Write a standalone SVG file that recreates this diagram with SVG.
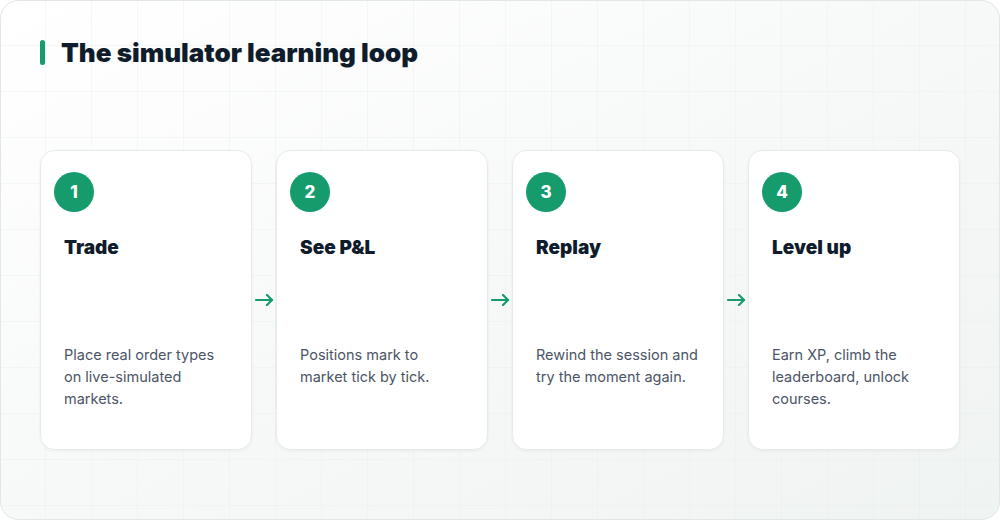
<svg xmlns="http://www.w3.org/2000/svg" width="1000" height="520" viewBox="0 0 1000 520">
<defs>
<linearGradient id="bg" x1="0" y1="0" x2="1" y2="1">
<stop offset="0" stop-color="#ffffff"/>
<stop offset="1" stop-color="#eff3f1"/>
</linearGradient>
<pattern id="grid" width="46" height="46" patternUnits="userSpaceOnUse">
<path d="M46 0V46M0 46H46" fill="none" stroke="#e6ecea" stroke-width="1"/>
</pattern>
<filter id="sh" x="-10%" y="-10%" width="120%" height="120%">
<feDropShadow dx="0" dy="1" stdDeviation="1.5" flood-color="#0f2a20" flood-opacity="0.05"/>
</filter>
<marker id="ah" viewBox="0 0 12 12" refX="10" refY="6" markerWidth="12" markerHeight="12" markerUnits="userSpaceOnUse" orient="auto">
<path d="M5 1L10 6L5 11" fill="none" stroke="#169b6c" stroke-width="2.2" stroke-linecap="round" stroke-linejoin="round"/>
</marker>
</defs>
<style>
.card{fill:#ffffff;stroke:#e4ebe8;stroke-width:1}
.badge{fill:#169b6c}
.num{font-family:Inter,"Liberation Sans",sans-serif;font-weight:800;font-size:17px;fill:#ffffff;text-anchor:middle}
.head{font-family:Inter,"Liberation Sans",sans-serif;font-weight:900;font-size:19px;fill:#0f1c2b}
.desc{font-family:Inter,"Liberation Sans",sans-serif;font-weight:400;font-size:14.5px;fill:#4b5566}
.title{font-family:Inter,"Liberation Sans",sans-serif;font-weight:900;font-size:26px;fill:#0f1c2b}
.conn{stroke:#169b6c;stroke-width:2.2;fill:none;stroke-linecap:round}
</style>
<rect x="0.5" y="0.5" width="999" height="519" rx="18" fill="url(#bg)" stroke="#e1e7e4"/>
<rect x="0.5" y="0.5" width="999" height="519" rx="18" fill="url(#grid)" opacity="0.8"/>
<g id="title">
<rect x="40" y="40" width="5" height="25" rx="2.5" fill="#169b6c"/>
<text class="title" x="61" y="62">The simulator learning loop</text>
</g>
<g id="node1">
<rect class="card" x="40.5" y="150.5" width="211" height="299" rx="14" filter="url(#sh)"/>
<circle class="badge" cx="74" cy="192" r="20"/>
<text class="num" x="74" y="198">1</text>
<text class="head" x="64" y="254">Trade</text>
<text class="desc" x="64" y="360">Place real order types</text>
<text class="desc" x="64" y="382">on live-simulated</text>
<text class="desc" x="64" y="404">markets.</text>
</g>
<g id="node2">
<rect class="card" x="276.5" y="150.5" width="211" height="299" rx="14" filter="url(#sh)"/>
<circle class="badge" cx="310" cy="192" r="20"/>
<text class="num" x="310" y="198">2</text>
<text class="head" x="300" y="254">See P&amp;L</text>
<text class="desc" x="300" y="360">Positions mark to</text>
<text class="desc" x="300" y="382">market tick by tick.</text>
</g>
<g id="node3">
<rect class="card" x="512.5" y="150.5" width="211" height="299" rx="14" filter="url(#sh)"/>
<circle class="badge" cx="546" cy="192" r="20"/>
<text class="num" x="546" y="198">3</text>
<text class="head" x="536" y="254">Replay</text>
<text class="desc" x="536" y="360">Rewind the session and</text>
<text class="desc" x="536" y="382">try the moment again.</text>
</g>
<g id="node4">
<rect class="card" x="748.5" y="150.5" width="211" height="299" rx="14" filter="url(#sh)"/>
<circle class="badge" cx="782" cy="192" r="20"/>
<text class="num" x="782" y="198">4</text>
<text class="head" x="772" y="254">Level up</text>
<text class="desc" x="772" y="360">Earn XP, climb the</text>
<text class="desc" x="772" y="382">leaderboard, unlock</text>
<text class="desc" x="772" y="404">courses.</text>
</g>
<g id="connectors">
<line class="conn" x1="256" y1="300" x2="272" y2="300" marker-end="url(#ah)"/>
<line class="conn" x1="492" y1="300" x2="508" y2="300" marker-end="url(#ah)"/>
<line class="conn" x1="728" y1="300" x2="744" y2="300" marker-end="url(#ah)"/>
</g>
</svg>
